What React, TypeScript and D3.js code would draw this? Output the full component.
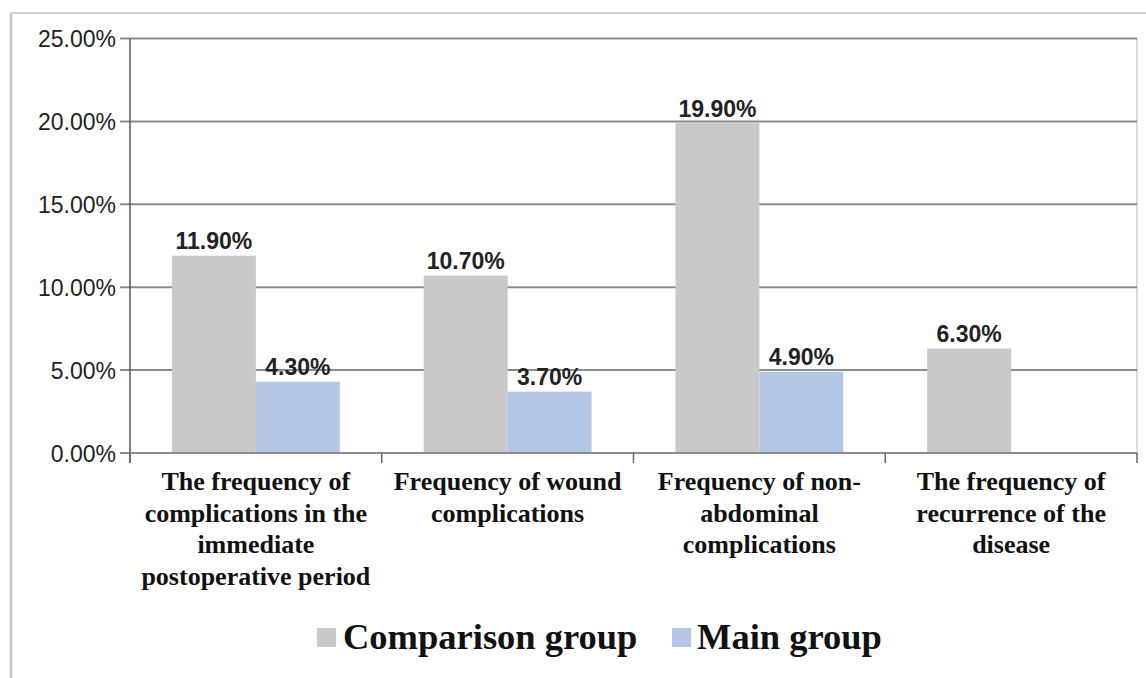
import React from "react";
import * as d3 from "d3";

const categories: string[][] = [
  ["The frequency of", "complications in the", "immediate", "postoperative period"],
  ["Frequency of wound", "complications"],
  ["Frequency of non-", "abdominal", "complications"],
  ["The frequency of", "recurrence of the", "disease"],
];
const seriesNames = ["Comparison group", "Main group"];
const comparisonValues: (number | null)[] = [11.9, 10.7, 19.9, 6.3];
const mainValues: (number | null)[] = [4.3, 3.7, 4.9, null];
const yTicks = [0, 5, 10, 15, 20, 25];
const colors = ["#c9c9c9", "#b4c7e7"];

const W = 1146;
const H = 678;
const plot = { left: 130, right: 1137, top: 38.5, bottom: 453 };

export default function App() {
  const catIdx = categories.map((_, i) => String(i));
  const x0 = d3.scaleBand<string>().domain(catIdx).range([plot.left, plot.right]).padding(0);
  const x1 = d3
    .scaleBand<string>()
    .domain(seriesNames)
    .range([0, x0.bandwidth()])
    .paddingInner(0)
    .paddingOuter(0.5);
  const y = d3.scaleLinear().domain([0, 25]).range([plot.bottom, plot.top]);
  const series = [comparisonValues, mainValues];
  const fmt = (v: number) => v.toFixed(2) + "%";

  const boundaries = catIdx.map((c) => x0(c)!).concat([plot.right]);

  return (
    <svg
      width={W}
      height={H}
      style={{ position: "absolute", left: 0, top: 0, background: "#fff" }}
    >
      {/* outer frame */}
      <line x1={11} x2={W} y1={13} y2={13} stroke="#c2c2c2" strokeWidth={1.5} />
      <line x1={11} x2={11} y1={13} y2={H} stroke="#c2c2c2" strokeWidth={2.5} />

      {/* plot right border */}
      <line x1={plot.right} x2={plot.right} y1={plot.top} y2={plot.bottom} stroke="#d0d0d0" strokeWidth={1.5} />

      {/* gridlines and y ticks */}
      {yTicks.map((t) => (
        <g key={t}>
          <line x1={120} x2={plot.right} y1={y(t)} y2={y(t)} stroke="#8c8c8c" strokeWidth={2} />
          <text
            x={116}
            y={y(t) + 8.5}
            textAnchor="end"
            fontFamily="'Liberation Sans', Arial, sans-serif"
            fontSize={23}
            fill="#222"
          >
            {fmt(t)}
          </text>
        </g>
      ))}

      {/* bars */}
      {series.map((vals, si) =>
        vals.map((v, ci) =>
          v == null ? null : (
            <rect
              key={`${si}-${ci}`}
              x={x0(String(ci))! + x1(seriesNames[si])!}
              y={y(v)}
              width={x1.bandwidth()}
              height={y(0) - y(v)}
              fill={colors[si]}
            />
          )
        )
      )}

      {/* value labels */}
      {series.map((vals, si) =>
        vals.map((v, ci) =>
          v == null ? null : (
            <text
              key={`l-${si}-${ci}`}
              x={x0(String(ci))! + x1(seriesNames[si])! + x1.bandwidth() / 2}
              y={y(v) - 6.5}
              textAnchor="middle"
              fontFamily="'Liberation Sans', Arial, sans-serif"
              fontWeight="bold"
              fontSize={23}
              fill="#222"
            >
              {fmt(v)}
            </text>
          )
        )
      )}

      {/* axes */}
      <line x1={plot.left} x2={plot.left} y1={plot.top} y2={plot.bottom + 10} stroke="#555" strokeWidth={1.5} />
      <line x1={plot.left} x2={plot.right} y1={plot.bottom} y2={plot.bottom} stroke="#8c8c8c" strokeWidth={2} />
      {boundaries.map((b, i) => (
        <line key={i} x1={b} x2={b} y1={plot.bottom} y2={plot.bottom + 10} stroke="#666" strokeWidth={1.5} />
      ))}

      {/* category labels */}
      {categories.map((lines, ci) => (
        <text
          key={`c-${ci}`}
          textAnchor="middle"
          fontFamily="'Liberation Serif', 'Times New Roman', serif"
          fontWeight="bold"
          fontSize={26}
          fill="#111"
        >
          {lines.map((ln, li) => (
            <tspan key={li} x={x0(String(ci))! + x0.bandwidth() / 2} y={490 + li * 31.7}>
              {ln}
            </tspan>
          ))}
        </text>
      ))}

      {/* legend */}
      <g fontFamily="'Liberation Serif', 'Times New Roman', serif" fontWeight="bold" fontSize={36.5} fill="#111">
        <rect x={317} y={628} width={19} height={19} fill={colors[0]} />
        <text x={343} y={649}>{seriesNames[0]}</text>
        <rect x={672} y={628} width={19} height={19} fill={colors[1]} />
        <text x={697} y={649}>{seriesNames[1]}</text>
      </g>
    </svg>
  );
}
